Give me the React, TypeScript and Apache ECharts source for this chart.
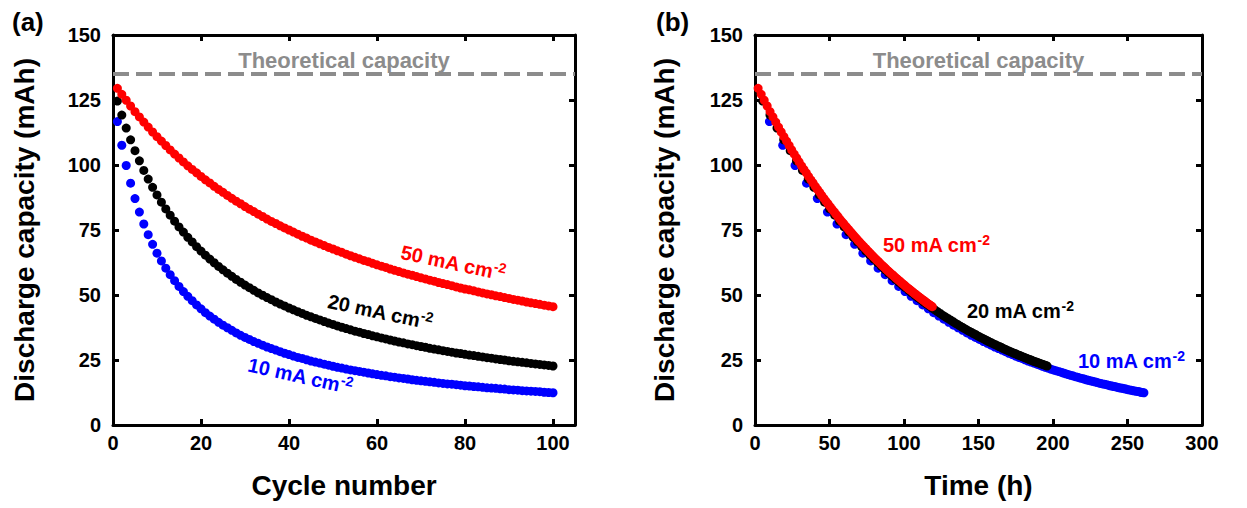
import React, { useEffect, useRef } from "react";
import * as echarts from "echarts";

const FONT = "'Liberation Sans', Arial, Helvetica, sans-serif";

// Discharge capacity (mAh) per cycle, cycles 1..100
const capacity50 = [
  129.5, 127.2, 124.9, 122.7, 120.5, 118.5, 116.5, 114.6, 112.7, 110.9,
  109.2, 107.5, 105.8, 104.2, 102.7, 101.2, 99.7, 98.3, 97.0, 95.6,
  94.3, 93.1, 91.8, 90.6, 89.5, 88.3, 87.2, 86.1, 85.1, 84.0,
  83.0, 82.1, 81.1, 80.2, 79.2, 78.3, 77.5, 76.6, 75.8, 75.0,
  74.2, 73.4, 72.6, 71.9, 71.1, 70.4, 69.7, 69.0, 68.3, 67.7,
  67.0, 66.4, 65.7, 65.1, 64.5, 63.9, 63.3, 62.8, 62.2, 61.6,
  61.1, 60.6, 60.0, 59.5, 59.0, 58.5, 58.0, 57.6, 57.1, 56.6,
  56.2, 55.7, 55.3, 54.8, 54.4, 54.0, 53.6, 53.1, 52.7, 52.3,
  52.0, 51.6, 51.2, 50.8, 50.4, 50.1, 49.7, 49.4, 49.0, 48.7,
  48.3, 48.0, 47.7, 47.3, 47.0, 46.7, 46.4, 46.1, 45.8, 45.5,
];
const capacity20 = [
  124.6, 119.2, 114.2, 109.7, 105.5, 101.6, 97.9, 94.6, 91.4, 88.5,
  85.7, 83.1, 80.7, 78.4, 76.2, 74.2, 72.2, 70.4, 68.6, 66.9,
  65.3, 63.8, 62.4, 61.0, 59.7, 58.4, 57.2, 56.0, 54.9, 53.8,
  52.8, 51.8, 50.8, 49.9, 49.0, 48.2, 47.3, 46.5, 45.8, 45.0,
  44.3, 43.6, 42.9, 42.2, 41.6, 41.0, 40.4, 39.8, 39.2, 38.7,
  38.1, 37.6, 37.1, 36.6, 36.1, 35.7, 35.2, 34.8, 34.3, 33.9,
  33.5, 33.1, 32.7, 32.3, 31.9, 31.6, 31.2, 30.9, 30.5, 30.2,
  29.9, 29.5, 29.2, 28.9, 28.6, 28.3, 28.0, 27.7, 27.5, 27.2,
  26.9, 26.7, 26.4, 26.2, 25.9, 25.7, 25.4, 25.2, 25.0, 24.7,
  24.5, 24.3, 24.1, 23.9, 23.7, 23.5, 23.3, 23.1, 22.9, 22.7,
];
const capacity10 = [
  116.7, 107.6, 99.8, 93.0, 87.1, 81.9, 77.3, 73.2, 69.5, 66.1,
  63.1, 60.3, 57.8, 55.5, 53.3, 51.3, 49.5, 47.8, 46.2, 44.7,
  43.2, 41.9, 40.7, 39.5, 38.4, 37.4, 36.4, 35.4, 34.5, 33.7,
  32.9, 32.1, 31.4, 30.7, 30.0, 29.4, 28.8, 28.2, 27.6, 27.1,
  26.5, 26.0, 25.6, 25.1, 24.6, 24.2, 23.8, 23.4, 23.0, 22.6,
  22.2, 21.9, 21.5, 21.2, 20.9, 20.6, 20.3, 20.0, 19.7, 19.4,
  19.1, 18.9, 18.6, 18.4, 18.1, 17.9, 17.7, 17.4, 17.2, 17.0,
  16.8, 16.6, 16.4, 16.2, 16.0, 15.8, 15.7, 15.5, 15.3, 15.1,
  15.0, 14.8, 14.7, 14.5, 14.3, 14.2, 14.1, 13.9, 13.8, 13.6,
  13.5, 13.4, 13.2, 13.1, 13.0, 12.9, 12.8, 12.6, 12.5, 12.4,
];

// total elapsed time (h) at the end of cycle 100
const endTime10 = 261;
const endTime20 = 196;
const endTime50 = 119;

const theoreticalCapacity = 135;
const seriesNames = ["10 mA cm-2", "20 mA cm-2", "50 mA cm-2"];
const colors = ["#0000ff", "#000000", "#ff0000"];

function cycleData(values: number[]) {
  return values.map((v, i) => [i + 1, v]);
}
// elapsed time grows with discharged capacity of each cycle
function timeData(values: number[], endTime: number) {
  const total = values.reduce((a, b) => a + b, 0);
  let acc = 0;
  return values.map((v) => {
    acc += v;
    return [(endTime * acc) / total, v];
  });
}

const axisLineStyle = { show: true, onZero: false, lineStyle: { color: "#000", width: 3 } };
const tickStyle = { show: true, inside: true, length: 6, lineStyle: { color: "#000", width: 3 } };
const labelStyle = { fontSize: 20, fontWeight: "bold" as const, color: "#000", fontFamily: FONT };
const nameStyle = { fontSize: 28, fontWeight: "bold" as const, color: "#000", fontFamily: FONT };

function xAxes(grid: number, max: number, interval: number, name: string) {
  return [
    {
      type: "value", gridIndex: grid, position: "bottom", min: 0, max, interval,
      axisLine: axisLineStyle, axisTick: tickStyle, splitLine: { show: false },
      axisLabel: { ...labelStyle, margin: 8, formatter: (v: number) => (v % interval === 0 ? String(v) : "") },
      name, nameLocation: "middle", nameGap: 46, nameTextStyle: nameStyle,
    },
    {
      type: "value", gridIndex: grid, position: "top", min: 0, max, interval,
      axisLine: axisLineStyle, axisTick: tickStyle, splitLine: { show: false },
      axisLabel: { show: false },
    },
  ];
}
function yAxes(grid: number, gap: number) {
  return [
    {
      type: "value", gridIndex: grid, position: "left", min: 0, max: 150, interval: 25,
      axisLine: axisLineStyle, axisTick: tickStyle, splitLine: { show: false },
      axisLabel: { ...labelStyle, margin: 12 },
      name: "Discharge capacity (mAh)", nameLocation: "middle", nameGap: gap, nameTextStyle: nameStyle,
    },
    {
      type: "value", gridIndex: grid, position: "right", min: 0, max: 150, interval: 25,
      axisLine: axisLineStyle, axisTick: tickStyle, splitLine: { show: false },
      axisLabel: { show: false },
    },
  ];
}

function theoryLine() {
  return {
    silent: true,
    symbol: "none",
    lineStyle: { type: [16, 7], color: "#8c8c8c", width: 4 },
    label: {
      show: true, position: "insideMiddleTop", distance: 3, formatter: "Theoretical capacity",
      color: "#8c8c8c", fontSize: 22, fontWeight: "bold", fontFamily: FONT,
    },
    data: [{ yAxis: theoreticalCapacity }],
  };
}

function rateLabel(text: string, color: string, x: number, y: number, rotation: number, align = "center") {
  const parts = text.split(" cm");
  return {
    type: "text", x, y, rotation, z: 100,
    style: {
      text: `{m|${parts[0]} cm}{s|${parts[1]}}`,
      align, verticalAlign: "middle", fill: color,
      rich: {
        m: { fontSize: 20, fontWeight: "bold", fontFamily: FONT, fill: color, lineHeight: 22 },
        s: { fontSize: 14, fontWeight: "bold", fontFamily: FONT, fill: color, padding: [0, 0, 11, 0] },
      },
    },
  };
}

export default function App() {
  const ref = useRef<HTMLDivElement>(null);
  useEffect(() => {
    if (!ref.current) return;
    const chart = echarts.init(ref.current, undefined, { renderer: "svg" });
    const caps = [capacity10, capacity20, capacity50];
    const ends = [endTime10, endTime20, endTime50];
    const series: any[] = [];
    caps.forEach((vals, i) => {
      series.push({
        type: "scatter", name: seriesNames[i], xAxisIndex: 0, yAxisIndex: 0,
        data: cycleData(vals), symbol: "circle", symbolSize: 9,
        itemStyle: { color: colors[i], opacity: 1 },
        markLine: i === 0 ? theoryLine() : undefined,
      });
    });
    caps.forEach((vals, i) => {
      series.push({
        type: "scatter", name: seriesNames[i] + " (time)", xAxisIndex: 2, yAxisIndex: 2,
        data: timeData(vals, ends[i]), symbol: "circle", symbolSize: 9,
        itemStyle: { color: colors[i], opacity: 1 },
        markLine: i === 0 ? theoryLine() : undefined,
      });
    });
    chart.setOption({
      animation: false,
      backgroundColor: "#fff",
      textStyle: { fontFamily: FONT },
      grid: [
        { left: 113, top: 35, width: 462, height: 390 },
        { left: 755, top: 35, width: 447, height: 390 },
      ],
      xAxis: [...xAxes(0, 105, 20, "Cycle number"), ...xAxes(1, 300, 50, "Time (h)")],
      yAxis: [...yAxes(0, 75), ...yAxes(1, 77)],
      series,
      graphic: [
        { type: "text", x: 12, y: 22, style: { text: "(a)", font: `bold 26px ${FONT}`, fill: "#000", verticalAlign: "middle" } },
        { type: "text", x: 656, y: 22, style: { text: "(b)", font: `bold 26px ${FONT}`, fill: "#000", verticalAlign: "middle" } },
        rateLabel(seriesNames[2], colors[2], 453, 263, -0.21),
        rateLabel(seriesNames[1], colors[1], 380, 312, -0.21),
        rateLabel(seriesNames[0], colors[0], 300, 376, -0.22),
        rateLabel(seriesNames[2], colors[2], 883, 245, 0, "left"),
        rateLabel(seriesNames[1], colors[1], 967, 311, 0, "left"),
        rateLabel(seriesNames[0], colors[0], 1078, 361, 0, "left"),
      ],
    });
    return () => chart.dispose();
  }, []);
  return (
    <div
      ref={ref}
      style={{ position: "absolute", left: 0, top: 0, width: 1247, height: 508, background: "#fff" }}
    />
  );
}
